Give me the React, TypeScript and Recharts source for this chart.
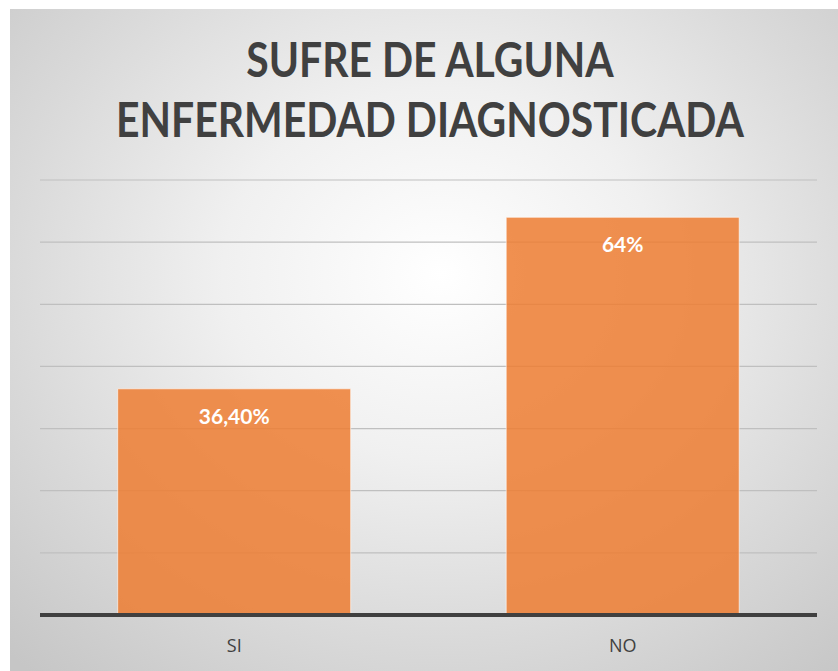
import { BarChart, Bar, XAxis, YAxis, CartesianGrid, LabelList } from 'recharts';

const categories = ['SI', 'NO'];
const values = [0.364, 0.64];
const valueLabels = ['36,40%', '64%'];
const yTicks = [0, 0.1, 0.2, 0.3, 0.4, 0.5, 0.6, 0.7];

const data = categories.map((name, i) => ({ name, value: values[i], label: valueLabels[i] }));

export default function App() {
  return (
    <div
      style={{
        position: 'absolute',
        left: 10,
        top: 9,
        width: 828,
        height: 662,
        background: 'radial-gradient(ellipse 75% 80% at 52% 40%, #ffffff 0%, #f0f0f0 35%, #d9d9d9 70%, #c6c6c6 100%)',
        fontFamily: 'Lato, "Open Sans", sans-serif',
      }}
    >
      <div
        style={{
          position: 'absolute',
          top: 20,
          left: 6,
          width: 828,
          textAlign: 'center',
          fontWeight: 700,
          fontSize: 47,
          lineHeight: '60px',
          color: '#404040',
          transform: 'scaleX(0.87)',
          transformOrigin: '414px 0',
          whiteSpace: 'nowrap',
        }}
      >
        SUFRE DE ALGUNA
        <br />
        ENFERMEDAD DIAGNOSTICADA
      </div>
      <BarChart
        width={828}
        height={662}
        data={data}
        margin={{ top: 171, right: 21, bottom: 16, left: 30 }}
        barCategoryGap="20%"
        style={{ position: 'absolute', left: 0, top: 0 }}
      >
        <CartesianGrid vertical={false} stroke="#bfbfbf" strokeWidth={1.2} />
        <YAxis hide domain={[0, 0.7]} ticks={yTicks} />
        <XAxis
          dataKey="name"
          height={40}
          axisLine={{ stroke: '#404040', strokeWidth: 4 }}
          tickLine={false}
          tick={{ fill: '#404040', fontSize: 18, fontFamily: '"Open Sans", sans-serif' }}
          tickMargin={18}
        />
        <Bar
          dataKey="value"
          fill="#ED7D31"
          fillOpacity={0.85}
          stroke="#ffffff"
          strokeOpacity={0.6}
          strokeWidth={1}
          isAnimationActive={false}
        >
          <LabelList
            dataKey="label"
            position="insideTop"
            offset={20}
            fill="#ffffff"
            fontSize={21}
            fontWeight={700}
            fontFamily="Lato, sans-serif"
          />
        </Bar>
      </BarChart>
    </div>
  );
}
